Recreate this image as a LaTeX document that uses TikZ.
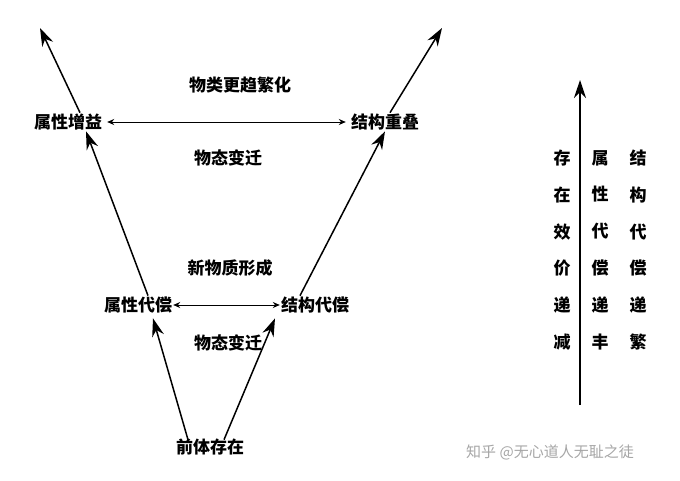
\documentclass[tikz,border=0pt]{standalone}
\usepackage{fontspec}
\setmainfont{Noto Sans CJK SC}
\usetikzlibrary{arrows.meta}
\begin{document}
\begin{tikzpicture}[x=1pt,y=-1pt,
  lbl/.style={font=\fontsize{17}{17}\selectfont\bfseries, inner sep=1pt},
  colt/.style={align=center, font=\fontsize{17}{36.8}\selectfont\bfseries, inner sep=0pt},
  big/.style={line width=1.5pt,-{Stealth[length=18pt,width=12pt]}},
  dbl/.style={line width=1pt,{Stealth[length=7pt,width=6pt]}-{Stealth[length=7pt,width=6pt]}}]
\useasboundingbox (0,0) rectangle (680,480);
\node[lbl] (ag) at (68,122) {属性增益};
\node[lbl] (sg) at (385,122) {结构重叠};
\node[lbl] (t1) at (240,85) {物类更趋繁化};
\node[lbl] (t2) at (228,158) {物态变迁};
\draw[dbl] ([xshift=4pt]ag.east) -- ([xshift=-4pt]sg.west);
\coordinate (e1) at (40,28);
\coordinate (e2) at (442,28);
\draw[big] ([xshift=12pt]ag.north) -- (e1);
\draw[big] ([xshift=5pt]sg.north) -- (e2);
\node[lbl] (t3) at (230,268) {新物质形成};
\node[lbl] (ac) at (138,305) {属性代偿};
\node[lbl] (sc) at (315,305) {结构代偿};
\draw[dbl] (ac.east) -- (sc.west);
\node[lbl] (t4) at (228,343) {物态变迁};
\node[lbl] (pre) at (210,447) {前体存在};
\draw[big] ([xshift=10pt]ac.north) -- ([xshift=18pt]ag.south);
\draw[big] ([xshift=-15pt]sc.north) -- (sg.south);
\draw[big] ([xshift=-22pt,yshift=-2pt]pre.north) -- ([xshift=15pt,yshift=-4pt]ac.south);
\draw[big] ([xshift=14pt,yshift=-2pt]pre.north) -- ([xshift=-40pt,yshift=-4pt]sc.south);
\coordinate (vb) at (580,405);
\coordinate (vt) at (580,80);
\draw[big] (vb) -- (vt);
\node[colt] (c1) at (562,250) {存\\在\\效\\价\\递\\减};
\node[colt] (c2) at (600,250) {属\\性\\代\\偿\\递\\丰};
\node[colt] (c3) at (638,250) {结\\构\\代\\偿\\递\\繁};
\node[font=\fontsize{15}{15}\selectfont, text=gray!70] (wm) at (550,452) {知乎 @无心道人无耻之徒};
\end{tikzpicture}
\end{document}
